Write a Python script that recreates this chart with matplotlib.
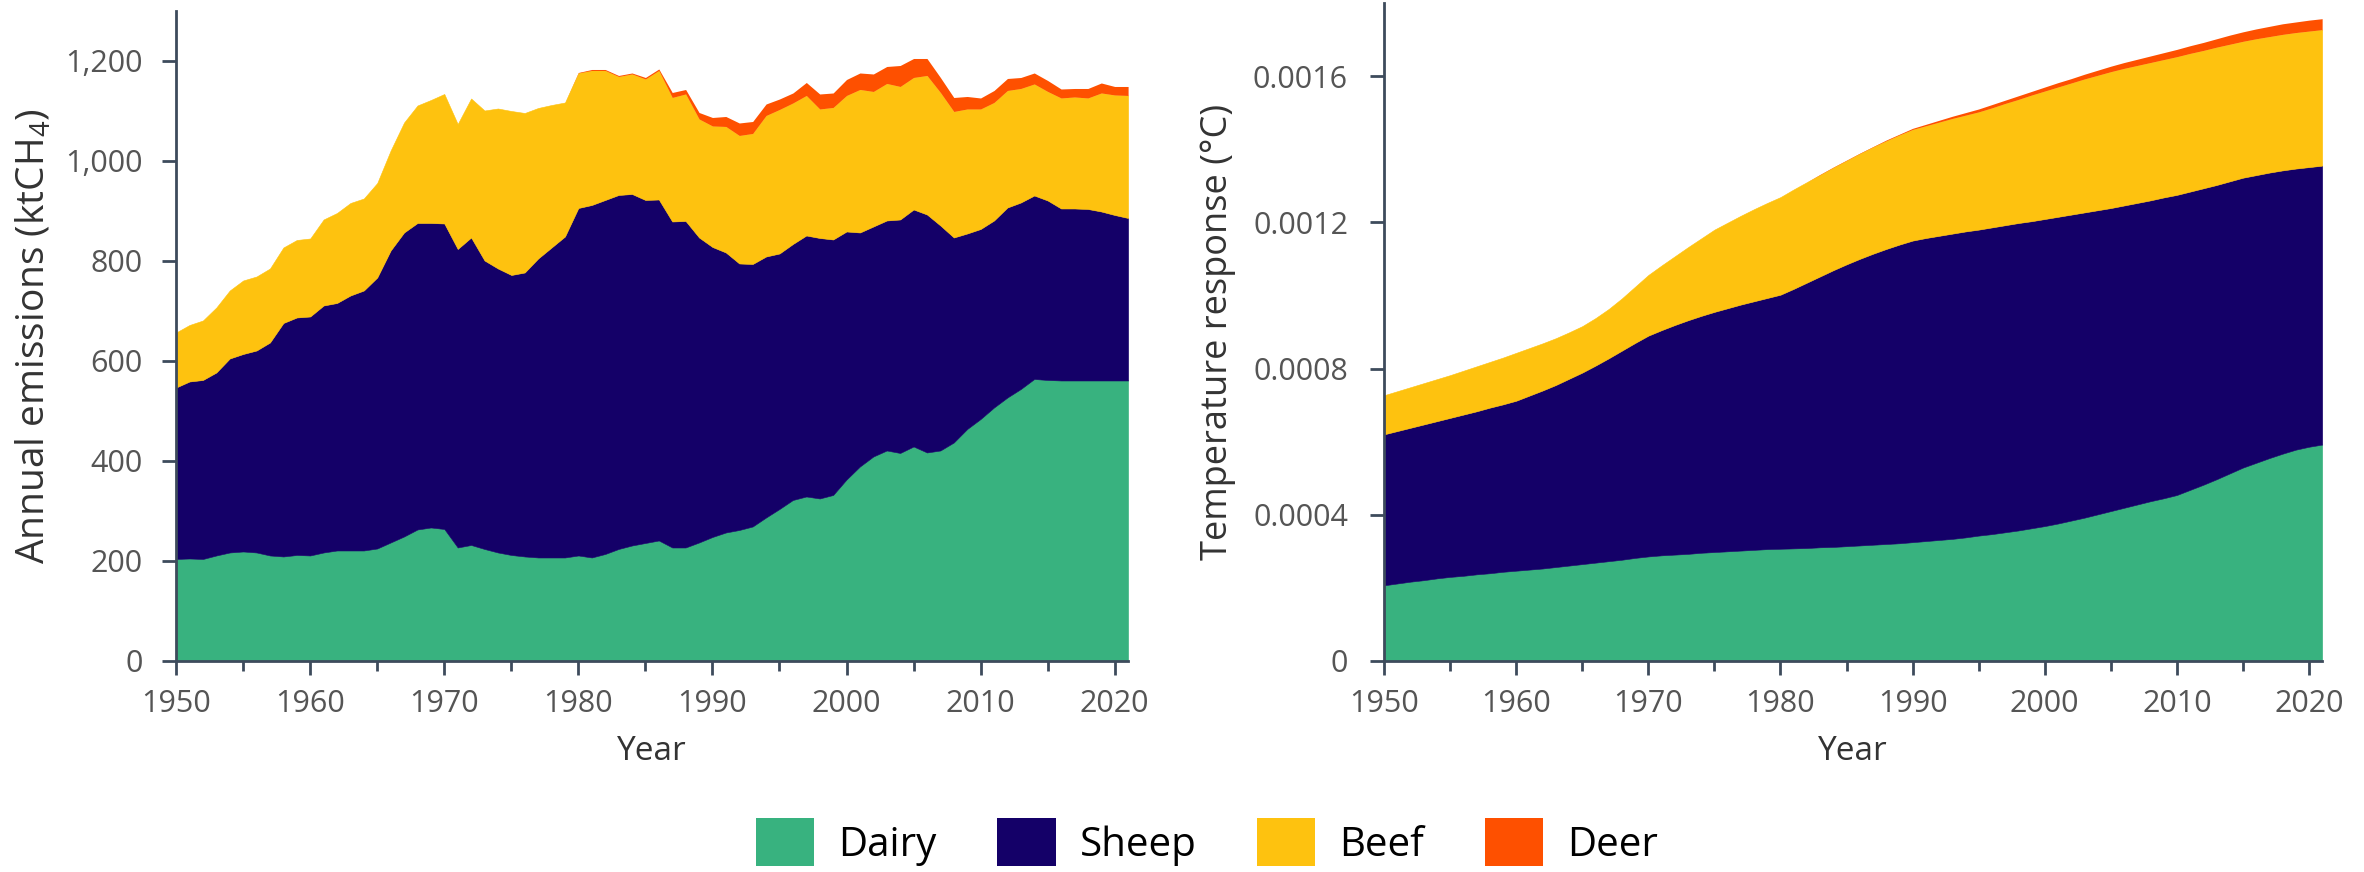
import numpy as np
import matplotlib
matplotlib.use("Agg")
import matplotlib.pyplot as plt
from matplotlib.ticker import MultipleLocator, FuncFormatter
from matplotlib.patches import Patch

plt.rcParams['font.family'] = ['Open Sans', 'DejaVu Sans']
plt.rcParams['mathtext.default'] = 'regular'

years = np.arange(1950, 2022)
labels = ['Dairy', 'Sheep', 'Beef', 'Deer']
colors = ['#38B27F', '#140068', '#FEC20F', '#FE5000']

# annual emissions, ktCH4
dairy_em = [204, 205, 204, 211, 217, 219, 217, 211, 209, 212,
            211, 217, 221, 221, 221, 225, 237, 249, 263, 267,
            264, 227, 232, 224, 217, 212, 209, 207, 207, 207,
            211, 207, 214, 224, 231, 236, 241, 227, 227, 237,
            248, 257, 262, 269, 287, 304, 322, 329, 325, 332,
            363, 389, 409, 421, 416, 429, 417, 421, 437, 464,
            484, 507, 527, 544, 564, 562, 561, 561, 561, 561,
            561, 561]
sheep_em = [343, 354, 358, 366, 388, 395, 404, 426, 467, 475,
            478, 494, 495, 510, 520, 542, 584, 608, 613, 609,
            611, 597, 615, 577, 568, 560, 568, 598, 620, 642,
            695, 705, 708, 708, 703, 686, 682, 652, 653, 610,
            580, 560, 533, 525, 522, 511, 512, 522, 521, 511,
            496, 468, 460, 460, 467, 474, 476, 450, 410, 391,
            380, 374, 380, 373, 367, 359, 344, 344, 343, 338,
            331, 325]
beef_em = [110, 113, 119, 130, 136, 147, 148, 148, 151, 155,
           156, 172, 180, 185, 184, 189, 200, 220, 235, 246,
           259, 250, 278, 300, 320, 328, 319, 301, 285, 268,
           270, 269, 259, 237, 240, 242, 258, 248, 254, 237,
           242, 252, 256, 261, 282, 288, 282, 280, 258, 264,
           272, 286, 270, 274, 266, 264, 278, 266, 252, 249,
           240, 236, 234, 228, 223, 218, 221, 223, 222, 237,
           240, 245]
deer_em = [0, 0, 0, 0, 0, 0, 0, 0, 0, 0,
           0, 0, 0, 0, 0, 0, 0, 0, 0, 0,
           0, 0, 0, 0, 0, 0, 0, 0, 0, 0,
           1, 2, 2, 2, 2, 3, 3, 10, 9, 13,
           17, 20, 25, 24, 23, 21, 20, 26, 30, 29,
           32, 33, 35, 34, 42, 38, 34, 30, 28, 25,
           22, 24, 24, 22, 22, 22, 18, 17, 19, 20,
           17, 18]

# temperature response, in units of 1e-4 degC
dairy_t = [2.07, 2.12, 2.17, 2.21, 2.26, 2.30, 2.33, 2.37, 2.40, 2.44,
           2.47, 2.50, 2.53, 2.57, 2.61, 2.65, 2.69, 2.73, 2.77, 2.82,
           2.86, 2.89, 2.91, 2.93, 2.96, 2.98, 3.00, 3.02, 3.04, 3.06,
           3.07, 3.08, 3.09, 3.11, 3.12, 3.14, 3.16, 3.18, 3.20, 3.22,
           3.25, 3.28, 3.31, 3.34, 3.38, 3.43, 3.47, 3.52, 3.57, 3.63,
           3.69, 3.76, 3.84, 3.92, 4.01, 4.10, 4.19, 4.28, 4.37, 4.45,
           4.54, 4.68, 4.82, 4.97, 5.13, 5.29, 5.42, 5.55, 5.67, 5.78,
           5.86, 5.92]
sheep_t = [4.13, 4.17, 4.21, 4.26, 4.30, 4.35, 4.41, 4.46, 4.53, 4.58,
           4.65, 4.76, 4.87, 4.98, 5.11, 5.24, 5.39, 5.55, 5.72, 5.88,
           6.04, 6.16, 6.28, 6.39, 6.48, 6.57, 6.65, 6.73, 6.80, 6.87,
           6.95, 7.10, 7.26, 7.41, 7.57, 7.71, 7.84, 7.96, 8.07, 8.17,
           8.25, 8.29, 8.32, 8.35, 8.37, 8.37, 8.39, 8.40, 8.41, 8.40,
           8.40, 8.39, 8.37, 8.35, 8.32, 8.29, 8.27, 8.25, 8.23, 8.23,
           8.21, 8.16, 8.11, 8.05, 7.99, 7.93, 7.87, 7.81, 7.75, 7.69,
           7.65, 7.63]
beef_t = [1.07, 1.09, 1.11, 1.13, 1.15, 1.17, 1.20, 1.23, 1.25, 1.28,
          1.31, 1.30, 1.29, 1.28, 1.27, 1.27, 1.30, 1.35, 1.43, 1.54,
          1.66, 1.77, 1.88, 2.00, 2.12, 2.25, 2.34, 2.43, 2.52, 2.60,
          2.67, 2.72, 2.75, 2.78, 2.81, 2.84, 2.88, 2.92, 2.96, 3.00,
          3.04, 3.07, 3.11, 3.15, 3.18, 3.22, 3.27, 3.33, 3.38, 3.45,
          3.50, 3.55, 3.60, 3.65, 3.69, 3.73, 3.75, 3.76, 3.77, 3.77,
          3.78, 3.78, 3.77, 3.77, 3.75, 3.73, 3.73, 3.72, 3.72, 3.72,
          3.72, 3.72]
deer_t = [0, 0, 0, 0, 0, 0, 0, 0, 0, 0,
          0, 0, 0, 0, 0, 0, 0, 0, 0, 0,
          0, 0, 0, 0, 0, 0, 0, 0, 0, 0,
          0.00, 0.00, 0.00, 0.01, 0.01, 0.01, 0.01, 0.01, 0.02, 0.02,
          0.03, 0.04, 0.05, 0.06, 0.07, 0.08, 0.09, 0.09, 0.10, 0.10,
          0.11, 0.12, 0.12, 0.13, 0.14, 0.15, 0.16, 0.17, 0.18, 0.19,
          0.20, 0.21, 0.22, 0.23, 0.25, 0.26, 0.27, 0.28, 0.29, 0.29,
          0.30, 0.30]

spine_col = '#3d4b5c'
tick_col = '#555555'
label_col = '#333333'

fig = plt.figure(figsize=(23.64, 8.72), dpi=100)
ax1 = fig.add_axes([0.0745, 0.242, 0.4027, 0.7454])
ax2 = fig.add_axes([0.5855, 0.242, 0.3968, 0.7546])


def style(ax):
    for s in ['top', 'right']:
        ax.spines[s].set_visible(False)
    for s in ['left', 'bottom']:
        ax.spines[s].set_color(spine_col)
        ax.spines[s].set_linewidth(2)
    ax.set_xlim(1950, 2021)
    ax.xaxis.set_major_locator(MultipleLocator(10))
    ax.xaxis.set_minor_locator(MultipleLocator(5))
    ax.tick_params(axis='both', which='major', length=10, width=2,
                   color=spine_col, labelcolor=tick_col, labelsize=22)
    ax.tick_params(axis='x', which='minor', length=7, width=2, color=spine_col)
    ax.tick_params(axis='x', which='major', pad=10)
    ax.set_xlabel('Year', fontsize=24, color=label_col, labelpad=12)


def stack(ax, series):
    polys = ax.stackplot(years, *series, colors=colors,
                         edgecolor='face', linewidth=0.4)
    # no outline on the thin deer layer, so it vanishes where it is zero
    polys[-1].set_linewidth(0)


stack(ax1, [dairy_em, sheep_em, beef_em, deer_em])
style(ax1)
ax1.set_ylim(0, 1300)
ax1.yaxis.set_major_locator(MultipleLocator(200))
ax1.yaxis.set_major_formatter(FuncFormatter(lambda v, p: f'{v:,.0f}'))
ax1.tick_params(axis='y', pad=14)
ax1.set_ylabel('Annual emissions (ktCH$_4$)', fontsize=28, color=label_col, labelpad=8)

stack(ax2, [np.array(s) * 1e-4 for s in (dairy_t, sheep_t, beef_t, deer_t)])
style(ax2)
ax2.set_ylim(0, 0.0018)
ax2.set_yticks([0, 0.0004, 0.0008, 0.0012, 0.0016])
ax2.yaxis.set_major_formatter(FuncFormatter(lambda v, p: '0' if v == 0 else f'{v:.4f}'))
ax2.tick_params(axis='y', pad=16)
ax2.set_ylabel('Temperature response (°C)', fontsize=26, color=label_col, labelpad=12)

handles = [Patch(facecolor=c, edgecolor='none') for c in colors]
fig.legend(handles, labels, loc='center', bbox_to_anchor=(0.5106, 0.034),
           ncol=4, frameon=False, fontsize=29, handlelength=1.45,
           handleheight=1.45, handletextpad=0.6, columnspacing=1.5)

fig.savefig('out.png', dpi=100)
